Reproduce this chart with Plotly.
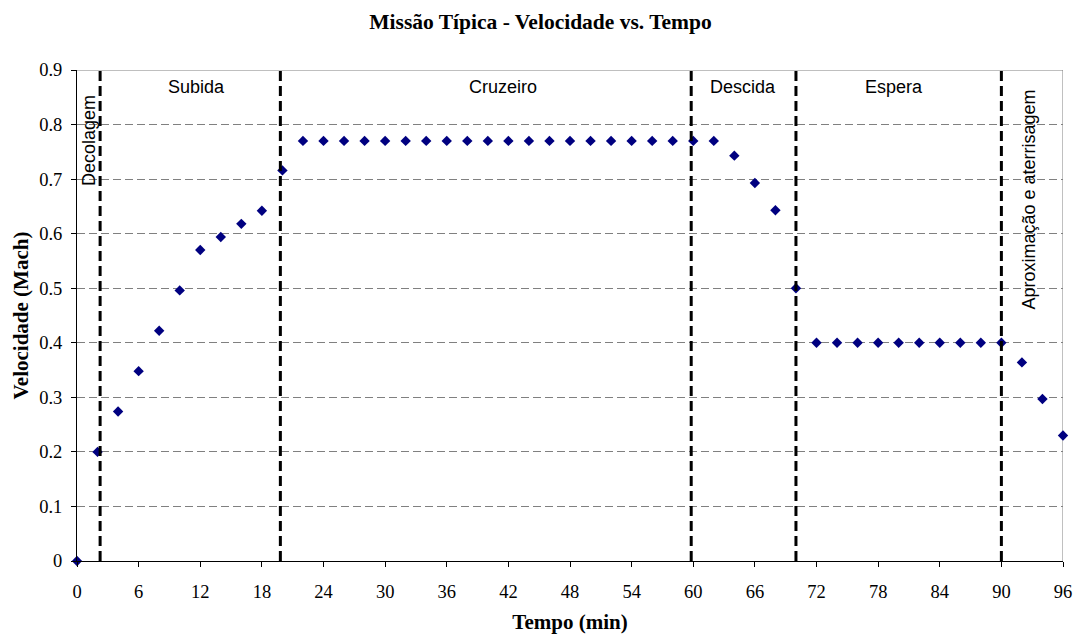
import plotly.graph_objects as go

tempo = list(range(0, 97, 2))
velocidade = [0.0, 0.2, 0.274, 0.348, 0.422, 0.496, 0.57, 0.594, 0.618, 0.642,
              0.716] + [0.77] * 21 + [0.743, 0.693, 0.643, 0.5] + [0.4] * 10 + [0.364, 0.297, 0.23]

fases_limites = [2.25, 19.8, 59.8, 70, 90]
fases_horiz = ["Subida", "Cruzeiro", "Descida", "Espera"]
fases_horiz_x = [11.6, 41.5, 64.8, 79.5]
fases_vert = ["Decolagem", "Aproximação e aterrisagem"]
fases_vert_x = [1.22, 92.65]
fases_vert_top = [0.858, 0.867]

x_ticks = list(range(0, 97, 6))
y_ticks = [round(i * 0.1, 1) for i in range(10)]

SERIF = "Liberation Serif, Times New Roman, serif"
SANS = "Liberation Sans, Arial, sans-serif"

fig = go.Figure()
fig.add_trace(go.Scatter(
    x=tempo, y=velocidade, mode="markers",
    marker=dict(symbol="diamond", color="#000080", size=8),
    showlegend=False, cliponaxis=False))

shapes = []
for xv in fases_limites:
    shapes.append(dict(type="line", xref="x", yref="y", x0=xv, x1=xv, y0=0, y1=0.9,
                       line=dict(color="black", width=3, dash="10px,5px"), layer="above"))
# gray frame top and right
shapes.append(dict(type="line", xref="x", yref="y", x0=0, x1=96, y0=0.9, y1=0.9,
                   line=dict(color="#808080", width=1), layer="below"))
shapes.append(dict(type="line", xref="x", yref="y", x0=96, x1=96, y0=0, y1=0.9,
                   line=dict(color="#808080", width=1), layer="below"))

annotations = []
for t, xv in zip(fases_horiz, fases_horiz_x):
    annotations.append(dict(x=xv, y=0.869, xref="x", yref="y", text=t, showarrow=False,
                            font=dict(family=SANS, size=18, color="black")))
for t, xv, yt in zip(fases_vert, fases_vert_x, fases_vert_top):
    annotations.append(dict(x=xv, y=yt, xref="x", yref="y", text=t,
                            showarrow=False, textangle=-90, yanchor="top",
                            font=dict(family=SANS, size=18, color="black")))

fig.update_layout(
    width=1081, height=634,
    margin=dict(l=77, r=18, t=70, b=73, autoexpand=False),
    paper_bgcolor="white", plot_bgcolor="white",
    title=dict(text="<b>Missão Típica - Velocidade vs. Tempo</b>", x=0.5, xanchor="center",
               y=1 - 21 / 634, yanchor="middle",
               font=dict(family=SERIF, size=21.5, color="black")),
    shapes=shapes, annotations=annotations,
    xaxis=dict(range=[0, 96], tickvals=x_ticks, ticks="outside", ticklen=5, tickcolor="black",
               showline=True, linecolor="black", linewidth=1, showgrid=False, zeroline=False,
               ticklabelstandoff=9, automargin=False,
               tickfont=dict(family=SERIF, size=18.5, color="black"),
               title=dict(text="<b>Tempo (min)</b>", standoff=15,
                          font=dict(family=SERIF, size=21, color="black"))),
    yaxis=dict(range=[0, 0.9], tickvals=y_ticks, ticktext=["0"] + [str(v) for v in y_ticks[1:]],
               ticks="outside", ticklen=5, tickcolor="black",
               showline=True, linecolor="black", linewidth=1, zeroline=False,
               ticklabelstandoff=5, automargin=False,
               showgrid=True, gridcolor="#808080", gridwidth=1, griddash="8px,4px",
               tickfont=dict(family=SERIF, size=18.5, color="black"),
               title=dict(text="<b>Velocidade (Mach)</b>", standoff=4,
                          font=dict(family=SERIF, size=21, color="black"))),
)

fig.write_html("out.html")
